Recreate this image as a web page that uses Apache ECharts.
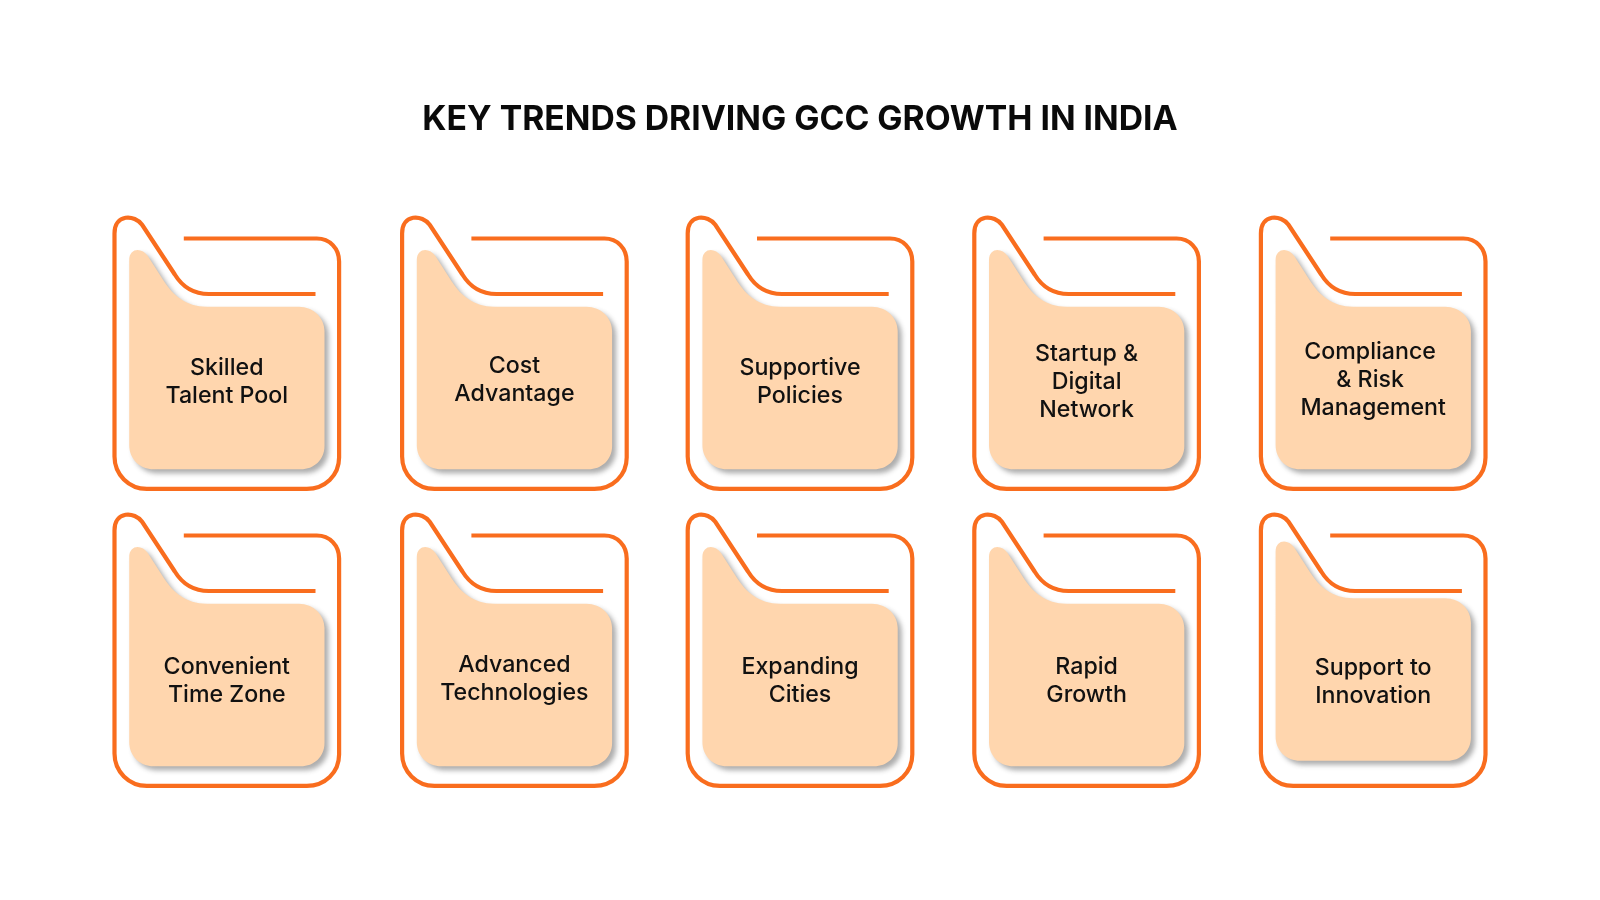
<!DOCTYPE html>
<html>
<head>
<meta charset="utf-8">
<title>Key Trends Driving GCC Growth in India</title>
<script src="https://cdn.jsdelivr.net/npm/echarts@6/dist/echarts.min.js"></script>
<style>
	html, body { margin: 0; padding: 0; background: #fff; }
	#main { width: 1600px; height: 900px; }
</style>
</head>
<body>
<div id="main"></div>
<script>
var titleText = 'KEY TRENDS DRIVING GCC GROWTH IN INDIA';
var columns = ['c1', 'c2', 'c3', 'c4', 'c5'];
var rows = ['r1', 'r2'];
var trendColumns = ['c1', 'c2', 'c3', 'c4', 'c5', 'c1', 'c2', 'c3', 'c4', 'c5'];
var trendRows = ['r1', 'r1', 'r1', 'r1', 'r1', 'r2', 'r2', 'r2', 'r2', 'r2'];
var trendLabels = [
	'Skilled\nTalent Pool',
	'Cost\nAdvantage',
	'Supportive\nPolicies',
	'Startup &\nDigital\nNetwork',
	'Compliance \n& Risk \nManagement',
	'Convenient\nTime Zone',
	'Advanced\nTechnologies',
	'Expanding\nCities',
	'Rapid\nGrowth',
	'Support to\nInnovation'
];

// vertical nudge of each label inside its card
var labelDy = [30, 28, 30, 30, 28, 32, 30, 32, 32, 33];
// second column sits a pixel right of the even spacing
var columnDx = [0, 1, 0, 0, 0];

// outline of the folder, drawn around the card centre
echarts.graphic.registerShape('cardFrame', echarts.graphic.extendShape({
	shape: { cx: 0, cy: 0 },
	buildPath: function(ctx, shape) {
		var x = shape.cx, y = shape.cy;
		ctx.moveTo(x - 43, y - 115);
		ctx.lineTo(x + 90, y - 115);
		ctx.bezierCurveTo(x + 103, y - 115, x + 112.3, y - 105, x + 112.3, y - 92);
		ctx.lineTo(x + 112.3, y + 104);
		ctx.bezierCurveTo(x + 112.3, y + 122, x + 98, y + 135.3, x + 80, y + 135.3);
		ctx.lineTo(x - 80, y + 135.3);
		ctx.bezierCurveTo(x - 98, y + 135.3, x - 112.3, y + 121, x - 112.3, y + 103);
		ctx.lineTo(x - 112.3, y - 120);
		ctx.bezierCurveTo(x - 112.3, y - 140, x - 92, y - 139, x - 84.7, y - 128.7);
		ctx.lineTo(x - 52, y - 79);
		ctx.bezierCurveTo(x - 44, y - 66, x - 33, y - 59.5, x - 18, y - 59.5);
		ctx.lineTo(x + 88.7, y - 59.5);
	}
}));

// peach panel inside the folder
echarts.graphic.registerShape('cardPanel', echarts.graphic.extendShape({
	shape: { cx: 0, cy: 0 },
	buildPath: function(ctx, shape) {
		var x = shape.cx, y = shape.cy;
		ctx.moveTo(x - 97.6, y - 92);
		ctx.bezierCurveTo(x - 97.6, y - 104, x - 85, y - 105, x - 79, y - 96);
		ctx.lineTo(x - 63, y - 71);
		ctx.bezierCurveTo(x - 54, y - 57, x - 41, y - 45.3, x - 20, y - 45.3);
		ctx.lineTo(x + 72, y - 45.3);
		ctx.bezierCurveTo(x + 87, y - 45.3, x + 97.7, y - 34, x + 97.7, y - 21);
		ctx.lineTo(x + 97.7, y + 94);
		ctx.bezierCurveTo(x + 97.7, y + 108, x + 87, y + 117.3, x + 74, y + 117.3);
		ctx.lineTo(x - 73, y + 117.3);
		ctx.bezierCurveTo(x - 87, y + 117.3, x - 97.6, y + 107, x - 97.6, y + 93);
		ctx.closePath();
	}
}));

function renderCard(params, api) {
	var i = params.dataIndex;
	var pos = api.coord([api.value(0), api.value(1)]);
	var cx = pos[0] + columnDx[i % 5];
	// the last panel sits a little higher than the others
	var panelShift = i === 9 ? -5.5 : 0;
	return {
		type: 'group',
		children: [{
			type: 'cardPanel',
			shape: { cx: cx, cy: pos[1] + panelShift },
			style: {
				fill: '#FFD6AE',
				shadowColor: 'rgba(40,40,40,0.38)',
				shadowBlur: 5,
				shadowOffsetX: 4,
				shadowOffsetY: 4
			}
		}, {
			type: 'cardFrame',
			shape: { cx: cx, cy: pos[1] + 1.5 },
			style: {
				fill: 'none',
				stroke: '#F96D1E',
				lineWidth: 4.2
			}
		}, {
			type: 'text',
			x: cx,
			y: pos[1] + labelDy[i],
			style: {
				text: trendLabels[i],
				fill: '#111111',
				font: '500 23.2px Inter',
				lineHeight: 27.8,
				align: 'center',
				verticalAlign: 'middle'
			}
		}]
	};
}

var cardData = [];
for(var i = 0; i < trendLabels.length; i++) {
	cardData.push([trendColumns[i], trendRows[i]]);
}

var myChart = echarts.init(document.getElementById('main'), null, { renderer: 'canvas' });
var option = {
	animation: false,
	backgroundColor: '#ffffff',
	title: {
		text: titleText,
		left: 'center',
		top: 97.5,
		textStyle: {
			fontFamily: 'Inter',
			fontWeight: 700,
			fontSize: 33.7,
			color: '#0a0a0a'
		}
	},
	grid: { left: 83.5, top: 203.5, width: 1433, height: 594 },
	xAxis: { type: 'category', data: columns, show: false },
	yAxis: { type: 'category', data: rows, inverse: true, show: false },
	series: [{
		type: 'custom',
		renderItem: renderCard,
		encode: { x: 0, y: 1 },
		clip: false,
		silent: true,
		data: cardData
	}]
};
myChart.setOption(option);
</script>
</body>
</html>
